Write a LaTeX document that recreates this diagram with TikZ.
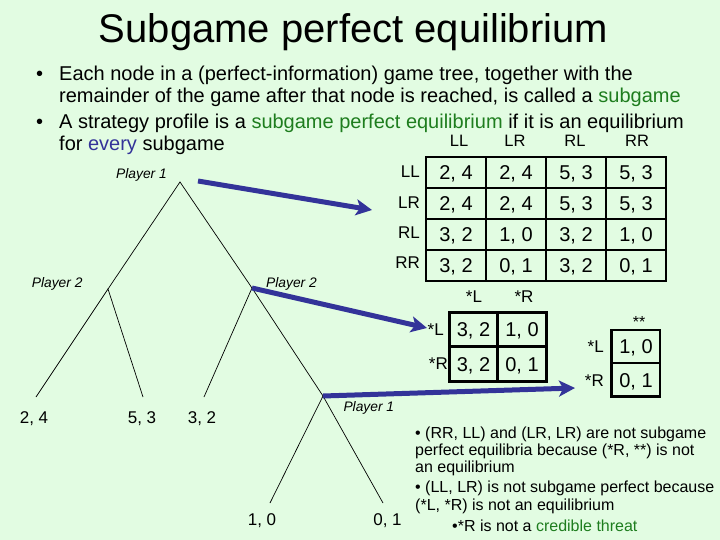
\documentclass[tikz,border=0pt]{standalone}
\usepackage{fontspec}
\setmainfont{Liberation Sans}
\usetikzlibrary{arrows.meta}
\definecolor{bg}{RGB}{226,252,226}
\definecolor{sgreen}{RGB}{30,125,30}
\definecolor{sblue}{RGB}{51,51,153}
\definecolor{arrowc}{RGB}{51,51,153}
\newcommand\fsz[1]{\fontsize{#1}{#1}\selectfont}
\begin{document}
\begin{tikzpicture}[x=1pt,y=-1pt,
  txt/.style={inner sep=0pt, anchor=base west},
  ctr/.style={inner sep=0pt, anchor=base},
  rlab/.style={inner sep=0pt, anchor=base east, font=\fsz{17}},
  cell/.style={inner sep=0pt, anchor=base, font=\fsz{20}},
  hdr/.style={inner sep=0pt, anchor=base, font=\fsz{16.5}},
  grid/.style={line width=2.6pt},
  branch/.style={line width=0.7pt},
  player/.style={inner sep=0pt, anchor=base west, font=\fsz{13.8}\itshape},
  leaf/.style={inner sep=0pt, anchor=base, font=\fsz{17}},
  bigarrow/.style={arrowc, line width=5pt, -{Stealth[length=16pt,width=16pt,inset=4pt]}},
  note/.style={inner sep=0pt, anchor=base west, font=\fsz{16}}
]
\fill[bg] (0,0) rectangle (720,540);
\useasboundingbox (0,0) rectangle (720,540);

% title
\node[ctr] (title) at (353.5,43) {\fsz{40}Subgame perfect equilibrium};

% bullets
\node[txt] (d1) at (36,81) {\fsz{20}•};
\node[txt] (t1) at (59,81) {\fsz{20}Each node in a (perfect-information) game tree, together with the};
\node[txt] (t2) at (59,103) {\fsz{20}remainder of the game after that node is reached, is called a \textcolor{sgreen}{subgame}};
\node[txt] (d2) at (36,129) {\fsz{20}•};
\node[txt] (t3) at (59,129) {\fsz{20}A strategy profile is a \textcolor{sgreen}{subgame perfect equilibrium} if it is an equilibrium};
\node[txt] (t4) at (59,151) {\fsz{20}for \textcolor{sblue}{every} subgame};

% table 1
\draw[grid] (426,157) rectangle (666,281);
\foreach \xx in {486,546,606} \draw[grid] (\xx,157) -- (\xx,281);
\foreach \yy in {188,219,250} \draw[grid] (426,\yy) -- (666,\yy);
\node[hdr] (h1) at (459,146.5) {LL};
\node[hdr] (h2) at (515,146.5) {LR};
\node[hdr] (h3) at (575,146.5) {RL};
\node[hdr] (h4) at (637,146.5) {RR};
\node[rlab] (r1) at (420,177.5) {LL};
\node[rlab] (r2) at (420,208) {LR};
\node[rlab] (r3) at (420,238.5) {RL};
\node[rlab] (r4) at (420,268) {RR};
\node[cell] (c11) at (456,179.5) {2, 4};
\node[cell] (c12) at (516,179.5) {2, 4};
\node[cell] (c13) at (576,179.5) {5, 3};
\node[cell] (c14) at (636,179.5) {5, 3};
\node[cell] (c21) at (456,210.5) {2, 4};
\node[cell] (c22) at (516,210.5) {2, 4};
\node[cell] (c23) at (576,210.5) {5, 3};
\node[cell] (c24) at (636,210.5) {5, 3};
\node[cell] (c31) at (456,241.5) {3, 2};
\node[cell] (c32) at (516,241.5) {1, 0};
\node[cell] (c33) at (576,241.5) {3, 2};
\node[cell] (c34) at (636,241.5) {1, 0};
\node[cell] (c41) at (456,272.5) {3, 2};
\node[cell] (c42) at (516,272.5) {0, 1};
\node[cell] (c43) at (576,272.5) {3, 2};
\node[cell] (c44) at (636,272.5) {0, 1};

% table 2
\node[hdr] (sh1) at (474,302.5) {\fsz{17}*L};
\node[hdr] (sh2) at (524,302.5) {\fsz{17}*R};
\draw[grid] (449.3,312.5) rectangle (546.7,381.7);
\draw[grid] (497.7,312.5) -- (497.7,381.7);
\draw[grid] (449.3,346.7) -- (546.7,346.7);
\node[rlab] (sr1) at (444,335) {*L};
\node[rlab] (sr2) at (448,369.5) {*R};
\node[cell] (s11) at (473.5,336.6) {3, 2};
\node[cell] (s12) at (522,336.6) {1, 0};
\node[cell] (s21) at (473.5,371.2) {3, 2};
\node[cell] (s22) at (522,371.2) {0, 1};

% table 3
\node[hdr] (uh) at (639,327) {\fsz{16}**};
\draw[grid] (611.7,330) rectangle (660,396.7);
\draw[grid] (611.7,363) -- (660,363);
\node[rlab] (ur1) at (604,352) {*L};
\node[rlab] (ur2) at (604,386) {*R};
\node[cell] (u1) at (636,353.5) {1, 0};
\node[cell] (u2) at (636,387) {0, 1};

% tree
\coordinate (root) at (180,182);
\coordinate (p2l) at (108,289);
\coordinate (p2r) at (252,288);
\coordinate (p1) at (323,396);
\coordinate (la) at (36,397);
\coordinate (lb) at (143,397);
\coordinate (lc) at (204,397);
\coordinate (ld) at (270,503);
\coordinate (le) at (383,503);
\draw[branch] (p2l) -- (root) -- (p2r);
\draw[branch] (la) -- (p2l) -- (lb);
\draw[branch] (lc) -- (p2r) -- (p1);
\draw[branch] (ld) -- (p1) -- (le);

\node[player] (pl1) at (116,178.3) {Player 1};
\node[player] (pl2) at (31.7,287.3) {Player 2};
\node[player] (pl3) at (266,287.3) {Player 2};
\node[player] (pl4) at (343.3,411.7) {Player 1};

\node[leaf] (v1) at (34,423) {2, 4};
\node[leaf] (v2) at (142,423) {5, 3};
\node[leaf] (v3) at (202,423) {3, 2};
\node[leaf] (v4) at (262,525.7) {1, 0};
\node[leaf] (v5) at (387.5,525.7) {0, 1};

% arrows
\coordinate (a1s) at (198,181);
\coordinate (a1e) at (372,210);
\coordinate (a2e) at (427,328);
\coordinate (a3e) at (575,388);
\draw[bigarrow] (a1s) -- (a1e);
\draw[bigarrow] (p2r) -- (a2e);
\draw[bigarrow] (p1) -- (a3e);

% notes
\node[note] (n1) at (415,438) {• (RR, LL) and (LR, LR) are not subgame};
\node[note] (n2) at (415,455.5) {perfect equilibria because (*R, **) is not};
\node[note] (n3) at (415,472) {an equilibrium};
\node[note] (n4) at (415,492.5) {• (LL, LR) is not subgame perfect because};
\node[note] (n5) at (415,510.5) {(*L, *R) is not an equilibrium};
\node[note] (n6) at (452,531) {•*R is not a \textcolor{sgreen}{credible threat}};
\end{tikzpicture}
\end{document}
